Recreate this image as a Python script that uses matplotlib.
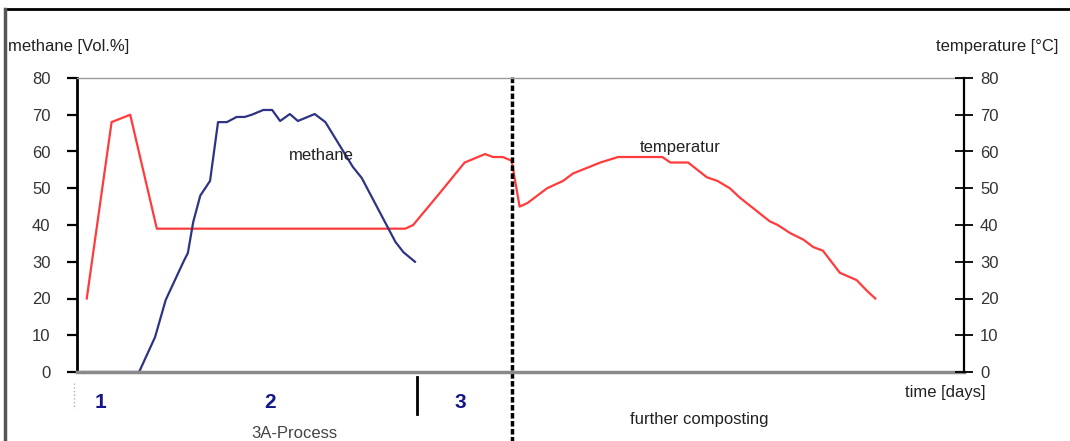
import matplotlib.pyplot as plt
from matplotlib.lines import Line2D

plt.rcParams['font.family'] = ['Liberation Sans', 'DejaVu Sans']

# temperature curve (red), x in days (arbitrary scale 0..100)
temp_days = [1.1, 3.9, 6.0, 9.0, 37.0, 37.9, 40.9, 43.7, 46.0, 46.9, 48.0, 49.0,
             49.9, 50.8, 53.0, 54.8, 55.9, 59.0, 61.0, 66.0, 66.9, 68.9, 71.0,
             72.2, 73.6, 74.7, 78.1, 79.0, 80.4, 81.9, 83.0, 84.1, 86.0, 87.9,
             89.1, 90.0]
temp_vals = [20, 68, 70, 39, 39, 40, 48.7, 57, 59.3, 58.5, 58.5, 57.5,
             45, 46, 50, 52, 54, 57, 58.5, 58.5, 57, 57, 53,
             52, 50, 47.5, 41, 40, 37.8, 36, 34, 33, 27, 25,
             22, 20]

# methane curve (blue)
meth_days = [0.6, 7.0, 8.8, 10.0, 12.0, 12.5, 13.1, 13.9, 15.0, 15.9, 16.9,
             18.0, 18.9, 19.7, 21.0, 22.0, 22.9, 24.0, 24.9, 26.8, 28.0, 31.1,
             32.1, 35.9, 36.8, 38.1]
meth_vals = [0, 0, 9.5, 19.6, 30, 32.4, 40.8, 48, 52, 68, 68,
             69.4, 69.4, 70, 71.3, 71.3, 68.3, 70.2, 68.3, 70.2, 68, 55.8,
             52.8, 35.4, 32.6, 30]

y_ticks = [0, 10, 20, 30, 40, 50, 60, 70, 80]
phase_end = 49.0      # start of further composting
step_mark = 38.3      # end of phase 2
phase_labels = ['1', '2', '3']
phase_x = [2.6, 21.8, 43.2]

fig = plt.figure(figsize=(10.7, 4.41), dpi=100)
ax = fig.add_axes([77 / 1070, 1 - 372 / 441, 887 / 1070, 294 / 441])
ax2 = ax.twinx()

ax.plot(temp_days, temp_vals, color='#ff3b3b', lw=1.6)
ax.plot(meth_days, meth_vals, color='#2e3484', lw=1.6)

for a in (ax, ax2):
    a.set_xlim(0, 100)
    a.set_ylim(0, 80)
    a.set_yticks(y_ticks)
    a.set_xticks([])

ax.spines['left'].set_linewidth(2)
ax.spines['left'].set_color('black')
ax.spines['bottom'].set_linewidth(2.5)
ax.spines['bottom'].set_color('#8a8a8a')
ax.spines['top'].set_linewidth(1)
ax.spines['top'].set_color('#9a9a9a')
ax.spines['right'].set_visible(False)
ax2.spines['right'].set_linewidth(1.6)
ax2.spines['right'].set_color('black')
for s in ('left', 'top', 'bottom'):
    ax2.spines[s].set_visible(False)

ax.tick_params(axis='y', direction='out', length=7, width=1.6, pad=12,
               labelsize=12, labelcolor='#333333')
ax2.tick_params(axis='y', direction='inout', length=13, width=1.3, pad=5,
                labelsize=12, labelcolor='#333333')

# vertical separators
ax.plot([phase_end, phase_end], [-19, 80.5], color='black', lw=2.5,
        dashes=(1.6, 0.7), clip_on=False)
ax.plot([step_mark, step_mark], [-1.4, -11.4], color='black', lw=2, clip_on=False)
ax.plot([-0.3, -0.3], [-3, -10], color='#b0b0b0', lw=1, ls=':', clip_on=False)

# phase numbers and texts
for lab, px in zip(phase_labels, phase_x):
    ax.text(px, -8.2, lab, color='#15158a', fontsize=15, fontweight='bold',
            ha='center', va='center', clip_on=False)
ax.text(24.5, -16.8, '3A-Process', fontsize=12, color='#444444',
        ha='center', va='center', clip_on=False)
ax.text(70.2, -13, 'further composting', fontsize=12, color='#222222',
        ha='center', va='center', clip_on=False)
ax.text(97.9, -5.5, 'time [days]', fontsize=12, color='#222222',
        ha='center', va='center', clip_on=False)
ax.text(27.5, 59, 'methane', fontsize=12, color='#222222', ha='center', va='center')
ax.text(68, 61.2, 'temperatur', fontsize=12, color='#222222', ha='center', va='center')

fig.text(8 / 1070, 1 - 47 / 441, 'methane [Vol.%]', fontsize=12, color='#222222',
         ha='left', va='center')
fig.text(1058 / 1070, 1 - 47 / 441, 'temperature [°C]', fontsize=12, color='#222222',
         ha='right', va='center')

# outer frame
fig.add_artist(Line2D([5 / 1070, 1], [1 - 9 / 441, 1 - 9 / 441], color='black', lw=2))
fig.add_artist(Line2D([5 / 1070, 5 / 1070], [0, 1 - 9 / 441], color='#555555', lw=2.5))

fig.savefig('out.png', dpi=100)
